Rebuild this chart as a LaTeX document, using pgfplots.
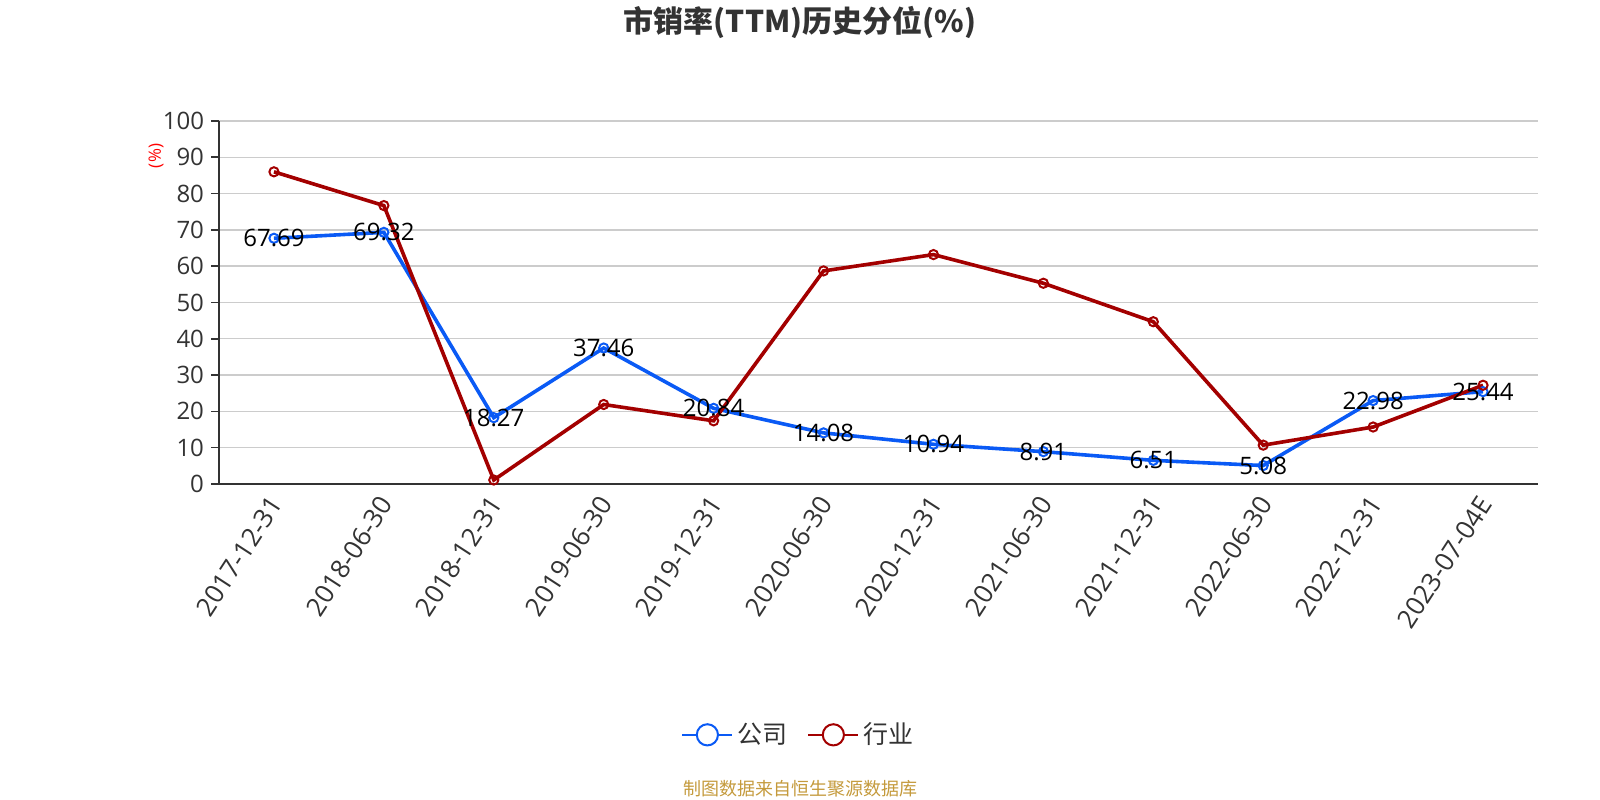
\documentclass[border=0pt]{standalone}
\usepackage{fontspec}
\setmainfont{Open Sans}
\newfontfamily\cjk{Noto Sans CJK SC}
\usepackage{pgfplots}
\pgfplotsset{compat=1.18}

\definecolor{cblue}{HTML}{0A5AF5}
\definecolor{cred}{HTML}{A30000}
\definecolor{txt}{HTML}{333333}
\definecolor{gridc}{HTML}{CCCCCC}
\definecolor{foot}{HTML}{C49A3C}

\begin{document}
\begin{tikzpicture}
\path[use as bounding box] (0,0) rectangle (800bp,400bp);
\begin{axis}[
  scale only axis,
  width=659.5bp, height=181.5bp,
  at={(109.5bp,158bp)}, anchor=south west,
  xmin=-0.5, xmax=11.5, ymin=0, ymax=100,
  axis lines=left, axis line style={-, txt, line width=0.8bp},
  xtick={0,...,11},
  xticklabels={2017-12-31,2018-06-30,2018-12-31,2019-06-30,2019-12-31,2020-06-30,2020-12-31,2021-06-30,2021-12-31,2022-06-30,2022-12-31,2023-07-04E},
  x tick label style={rotate=57, anchor=east, font=\fontsize{13bp}{15bp}\selectfont, text=txt, yshift=-3bp, xshift=1bp},
  x tick style={draw=none},
  extra x ticks={-0.5,0.5,...,11.5},
  extra x tick labels={},
  extra x tick style={tick style={draw=txt, line width=0.8bp}, major tick length=5bp},
  ytick={0,10,...,100},
  y tick label style={font=\fontsize{12bp}{14bp}\selectfont, text=txt},
  y tick style={draw=txt, line width=0.8bp},
  major tick length=4bp,
  tick align=outside,
  /pgf/number format/assume math mode=true,
  ymajorgrids, grid style={gridc, line width=0.7bp},
  clip=false,
  legend columns=2,
  legend style={at={(0.44,-0.691)}, anchor=center, draw=none, fill=none,
    font=\cjk\fontsize{12.5bp}{14bp}\selectfont, text=txt,
    /tikz/every even column/.append style={column sep=8bp}},
]
\addplot[cblue, line width=1.8bp, mark=o, mark size=2.3bp,
  mark options={fill=white, line width=1bp},
  nodes near coords, point meta=explicit symbolic,
  nodes near coords style={anchor=center, text=black, font=\fontsize{12bp}{14bp}\selectfont},
  legend image code/.code={\draw[cblue, line width=1bp] (0bp,0bp) -- (25bp,0bp);
    \draw[cblue, line width=1bp, fill=white] (12.5bp,0bp) circle (5.3bp);}]
coordinates {
(0,67.69)[67.69] (1,69.32)[69.32] (2,18.27)[18.27] (3,37.46)[37.46]
(4,20.84)[20.84] (5,14.08)[14.08] (6,10.94)[10.94] (7,8.91)[8.91]
(8,6.51)[6.51] (9,5.08)[5.08] (10,22.98)[22.98] (11,25.44)[25.44]
};
\addlegendentry{公司}
\addplot[cred, line width=1.8bp, mark=o, mark size=2.3bp,
  mark options={fill=white, line width=1bp},
  legend image code/.code={\draw[cred, line width=1bp] (0bp,0bp) -- (25bp,0bp);
    \draw[cred, line width=1bp, fill=white] (12.5bp,0bp) circle (5.3bp);}]
coordinates {
(0,86.0) (1,76.7) (2,1.1) (3,21.9) (4,17.4) (5,58.7)
(6,63.2) (7,55.3) (8,44.7) (9,10.7) (10,15.7) (11,27.2)
};
\addlegendentry{行业}
\end{axis}
\node[font=\cjk\bfseries\fontsize{15bp}{17bp}\selectfont, text=txt] at (400bp,389bp) {市销率(TTM)历史分位(\%)};
\node[rotate=90, text=red, font=\fontsize{8.5bp}{10bp}\selectfont] at (78bp,322bp) {(\%)};
\node[text=foot, font=\cjk\fontsize{9bp}{11bp}\selectfont] at (400bp,5.5bp) {制图数据来自恒生聚源数据库};
\end{tikzpicture}
\end{document}
